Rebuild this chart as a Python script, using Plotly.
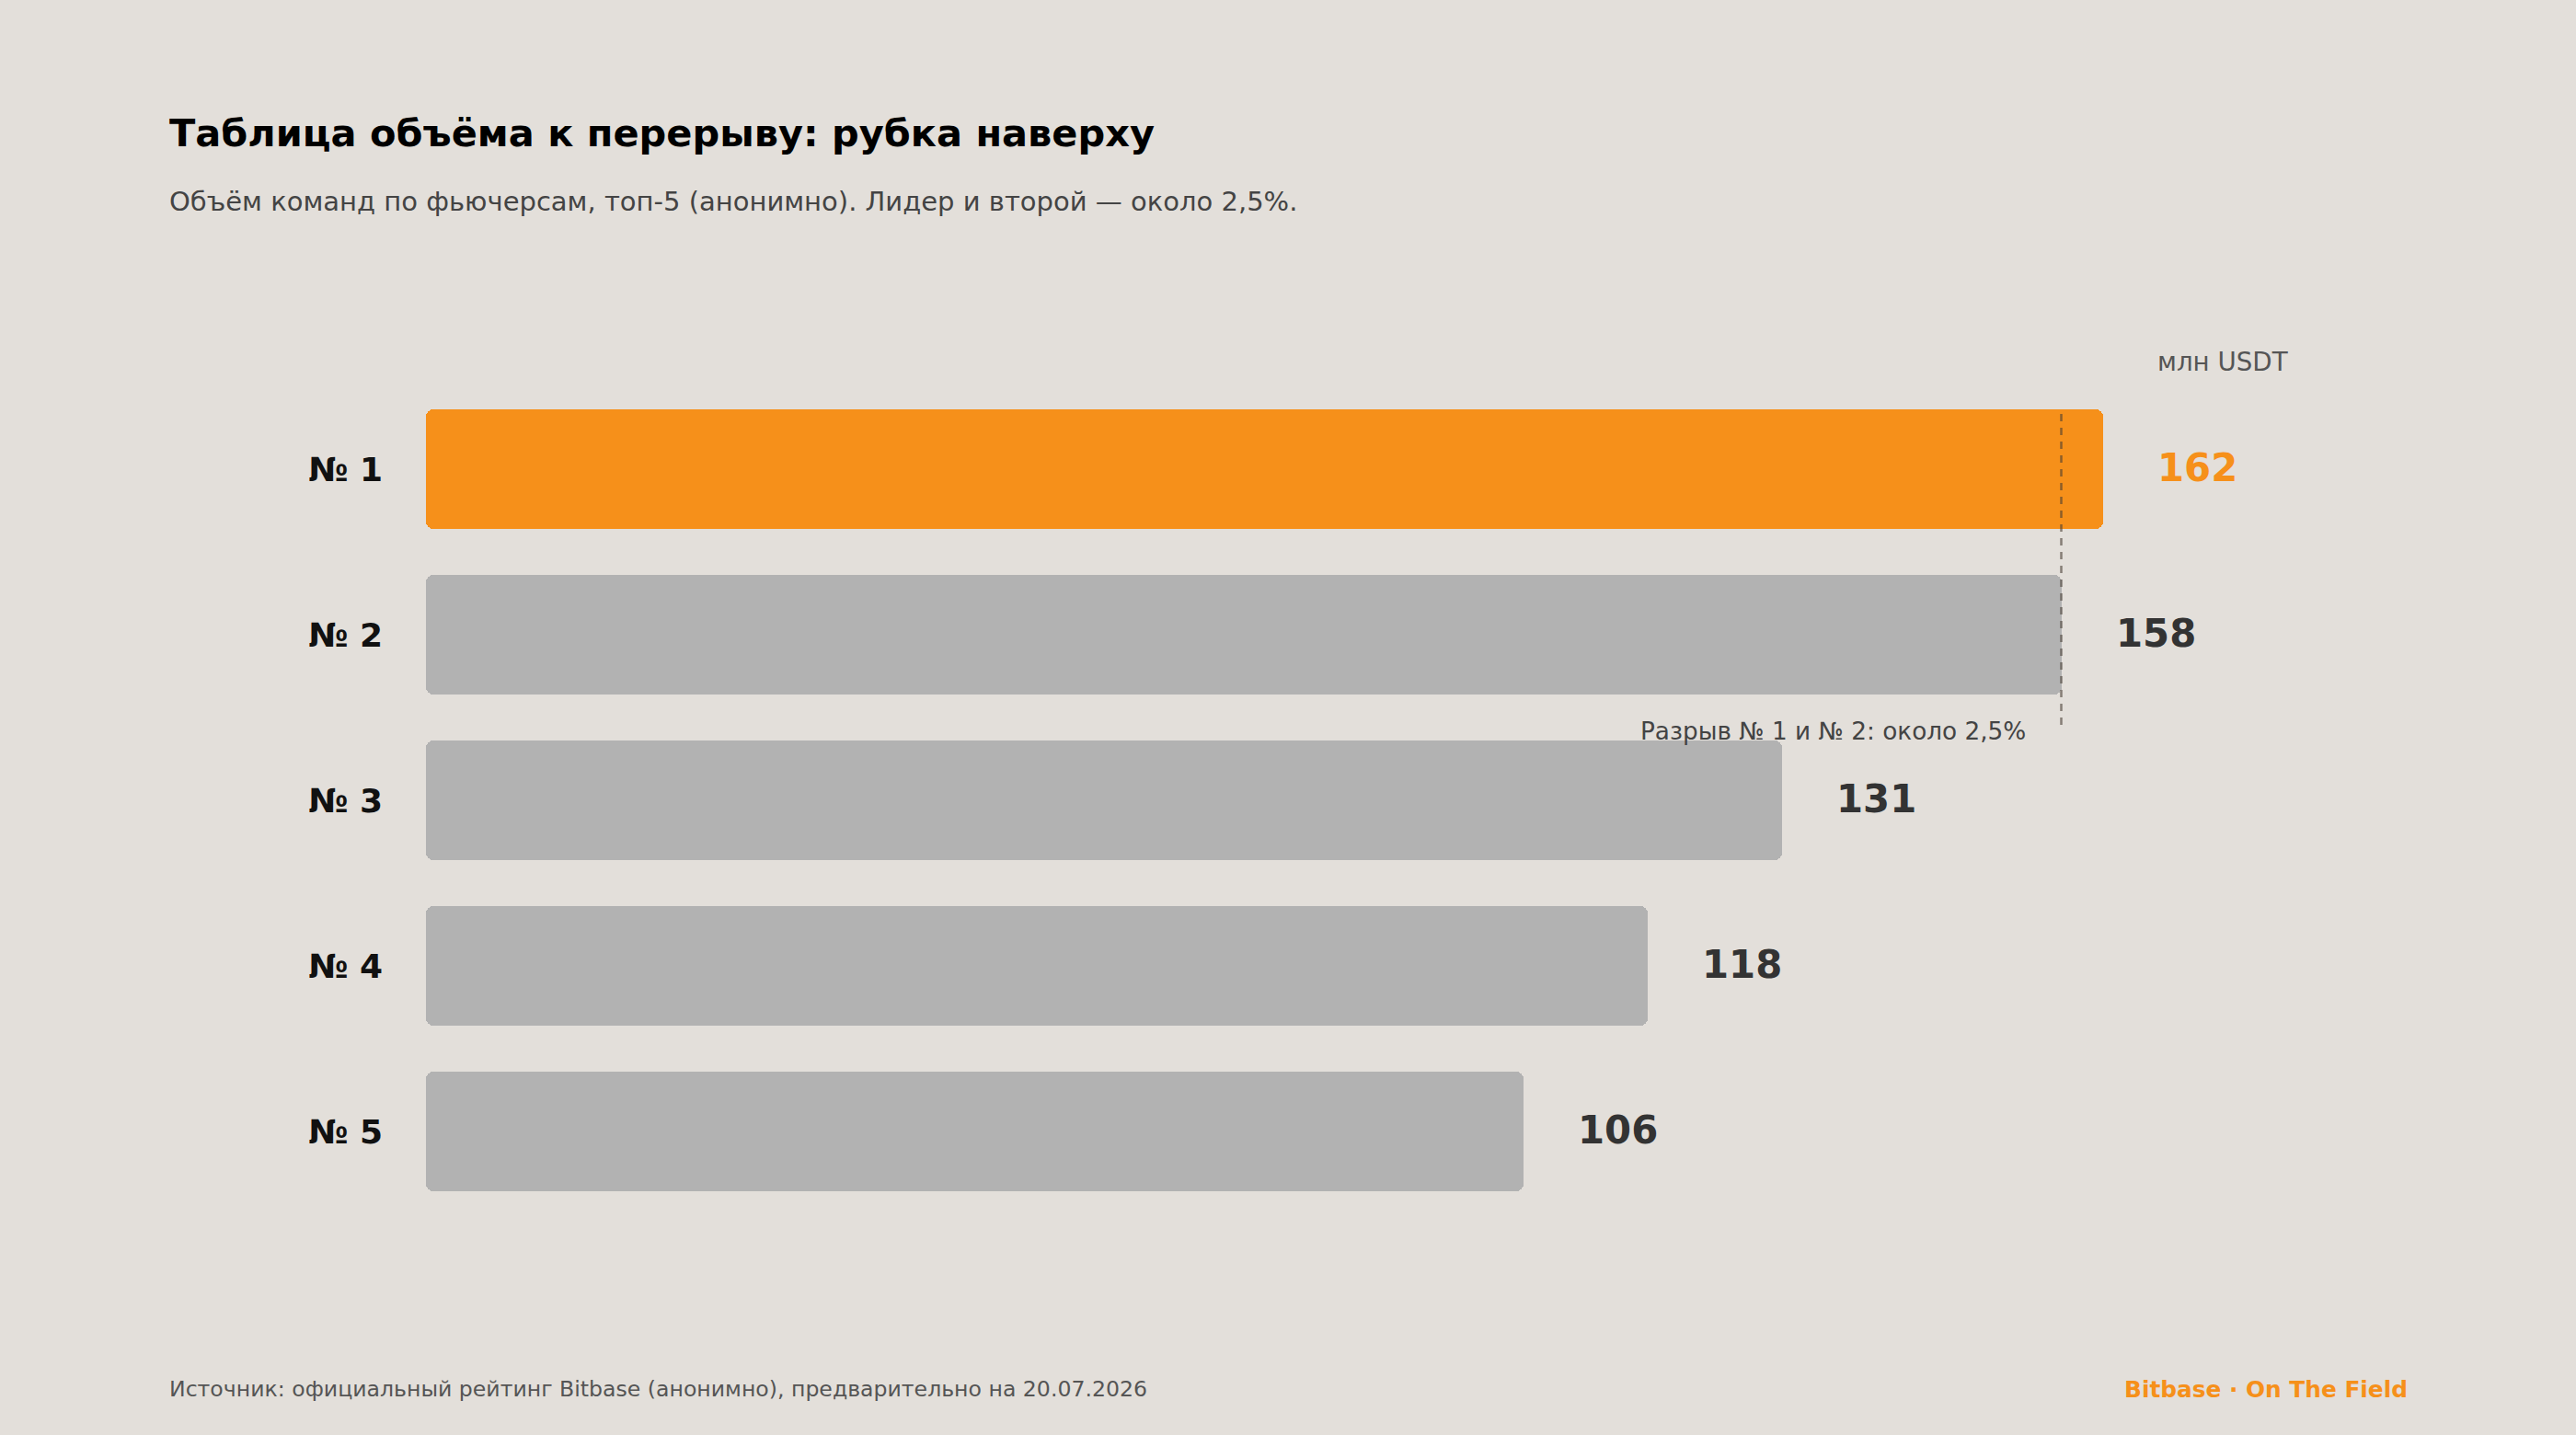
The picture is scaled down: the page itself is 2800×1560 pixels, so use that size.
import plotly.graph_objects as go

# ---- data ----
ranks = ["№ 1", "№ 2", "№ 3", "№ 4", "№ 5"]
volumes = [162, 158, 131, 118, 106]
value_labels = ["162", "158", "131", "118", "106"]
unit_label = "млн USDT"
gap_label = "Разрыв № 1 и № 2: около 2,5%"
title = "Таблица объёма к перерыву: рубка наверху"
subtitle = "Объём команд по фьючерсам, топ-5 (анонимно). Лидер и второй — около 2,5%."
source = "Источник: официальный рейтинг Bitbase (анонимно), предварительно на 20.07.2026"
brand = "Bitbase · On The Field"

# ---- style ----
W, H = 2800, 1560
L, R, T, B = 463, 87, 420, 240
PW, PH = W - L - R, H - T - B
BG = "#E3DFDA"
ORANGE = "#F6901A"
GREY = "#B2B2B2"
FONT = "DejaVu Sans"

colors = [ORANGE] + [GREY] * (len(ranks) - 1)
ypos = list(range(len(ranks)))

def px_x(px):
    return (px - L) / PW

def px_y(py):
    return (H - B - py) / PH

fig = go.Figure()
# right half (rounded at the right end)
fig.add_trace(go.Bar(
    y=ypos, x=[v * 0.6 for v in volumes], base=[v * 0.4 for v in volumes],
    orientation="h", marker=dict(color=colors, line=dict(width=0), cornerradius=8),
    width=0.722, hoverinfo="skip", showlegend=False,
))
# left half (rounded at the left end)
fig.add_trace(go.Bar(
    y=ypos, x=[-v * 0.6 for v in volumes], base=[v * 0.6 for v in volumes],
    orientation="h", marker=dict(color=colors, line=dict(width=0), cornerradius=8),
    width=0.722, hoverinfo="skip", showlegend=False,
))

annotations = []
for i, (v, lab) in enumerate(zip(volumes, value_labels)):
    annotations.append(dict(
        x=v, y=i, xref="x", yref="y", text=f"<b>{lab}</b>", showarrow=False,
        xanchor="left", yanchor="middle", xshift=57, yshift=2,
        font=dict(family=FONT, size=41.8, color=ORANGE if i == 0 else "#333333"),
    ))

annotations += [
    dict(x=volumes[0], y=px_y(393), xref="x", yref="paper", text=unit_label,
         showarrow=False, xanchor="left", yanchor="middle", xshift=57,
         font=dict(family=FONT, size=27.7, color="#555555")),
    dict(x=volumes[1], y=px_y(795), xref="x", yref="paper", text=gap_label,
         showarrow=False, xanchor="right", yanchor="middle", xshift=-37,
         font=dict(family=FONT, size=26.3, color="#444444")),
    dict(x=px_x(182), y=px_y(144), xref="paper", yref="paper", text=f"<b>{title}</b>",
         showarrow=False, xanchor="left", yanchor="middle",
         font=dict(family=FONT, size=41.5, color="#000000")),
    dict(x=px_x(182), y=px_y(219), xref="paper", yref="paper", text=subtitle,
         showarrow=False, xanchor="left", yanchor="middle",
         font=dict(family=FONT, size=29, color="#444444")),
    dict(x=px_x(182), y=px_y(1510), xref="paper", yref="paper", text=source,
         showarrow=False, xanchor="left", yanchor="middle",
         font=dict(family=FONT, size=23.6, color="#555555")),
    dict(x=px_x(2619), y=px_y(1510), xref="paper", yref="paper", text=f"<b>{brand}</b>",
         showarrow=False, xanchor="right", yanchor="middle",
         font=dict(family=FONT, size=24.8, color=ORANGE)),
]

shapes = [dict(
    type="line", xref="x", yref="paper", x0=volumes[1], x1=volumes[1],
    y0=px_y(450), y1=px_y(790),
    line=dict(color="rgba(70,60,50,0.6)", width=2.5, dash="8px,7px"), layer="above",
)]

fig.update_layout(
    width=W, height=H, paper_bgcolor=BG, plot_bgcolor=BG,
    margin=dict(l=L, r=R, t=T, b=B, autoexpand=False),
    barmode="overlay", bargap=0,
    xaxis=dict(range=[0, 200], showgrid=False, zeroline=False, showticklabels=False,
               showline=False, fixedrange=True),
    yaxis=dict(range=[len(ranks) - 0.5, -0.5], tickvals=ypos, ticktext=[f"<b>{r}</b>" for r in ranks],
               showgrid=False, zeroline=False, showline=False, ticks="",
               ticklabelstandoff=46,
               tickfont=dict(family=FONT, size=36, color="#111111"), fixedrange=True),
    annotations=annotations, shapes=shapes, font=dict(family=FONT),
)

fig.write_html("out.html", config={"displayModeBar": False})
